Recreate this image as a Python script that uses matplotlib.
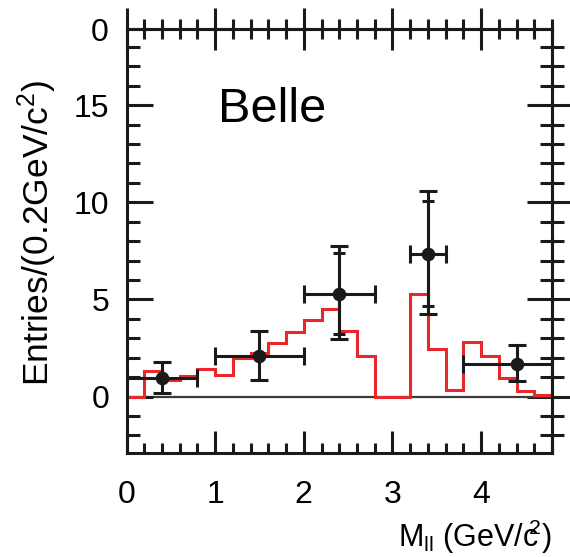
import numpy as np
import matplotlib.pyplot as plt
from matplotlib.ticker import MultipleLocator

plt.rcParams['font.family'] = ['Liberation Sans', 'DejaVu Sans']
plt.rcParams['mathtext.fontset'] = 'custom'
plt.rcParams['mathtext.rm'] = 'Liberation Sans'
plt.rcParams['mathtext.it'] = 'Liberation Sans:italic'

# histogram (MC expectation), 0.2 GeV bins
edges = [0.0, 0.2, 0.4, 0.6, 0.8, 1.0, 1.2, 1.4, 1.6, 1.8, 2.0, 2.2, 2.4,
         2.6, 2.8, 3.0, 3.2, 3.4, 3.6, 3.8, 4.0, 4.2, 4.4, 4.6, 4.8]
mc = [0.0, 1.33, 0.86, 1.08, 1.41, 1.11, 1.97, 2.24, 2.74, 3.34, 3.94, 4.49,
      3.38, 2.09, 0.0, 0.0, 5.27, 2.43, 0.33, 2.82, 2.10, 0.97, 0.30, 0.09]

# data points
x_pts = [0.4, 1.5, 2.4, 3.4, 4.4]
y_pts = [0.98, 2.08, 5.28, 7.33, 1.68]
x_lo = [0.4, 0.5, 0.4, 0.2, 0.6]
x_hi = [0.4, 0.5, 0.4, 0.2, 0.4]
y_lo = [0.79, 1.23, 2.32, 3.08, 0.89]
y_hi = [0.79, 1.29, 2.47, 3.26, 0.99]
# inner (stat) errors for the two central points
x_in = [2.4, 3.4]
y_in = [5.28, 7.33]
y_in_lo = [2.08, 2.67]
y_in_hi = [2.09, 2.73]

fig = plt.figure(figsize=(5.7, 5.57), dpi=100)
ax = fig.add_axes([126.5 / 570, 1 - 453.3 / 557, (552 - 126.5) / 570, (453.3 - 29.3) / 557])

ax.axhline(0, color='#3a3a3a', lw=1.6, zorder=1)
ax.stairs(mc, edges, baseline=None, color='#e8282c', lw=2.2, zorder=2)

ax.errorbar(x_pts, y_pts, xerr=[x_lo, x_hi], yerr=[y_lo, y_hi], fmt='o',
            color='#1a1a1a', ms=8.8, elinewidth=2.2, capsize=6.5, capthick=2.2, zorder=3)
ax.errorbar(x_in, y_in, yerr=[y_in_lo, y_in_hi], fmt='none',
            ecolor='#1a1a1a', elinewidth=2.2, capsize=4.5, capthick=2.2, zorder=3)

ax.set_xlim(0, 4.8)
ax.set_ylim(-2.92, 18.9)

for s in ax.spines.values():
    s.set_linewidth(2.2)
    s.set_color('#1a1a1a')

ax.xaxis.set_major_locator(MultipleLocator(1))
ax.xaxis.set_minor_locator(MultipleLocator(0.2))
ax.yaxis.set_major_locator(MultipleLocator(5))
ax.yaxis.set_minor_locator(MultipleLocator(1))
ax.set_yticks([0, 5, 10, 15])

ax.tick_params(axis='x', which='major', direction='in', length=15.5, width=2.2,
               labelsize=23, pad=19, color='#1a1a1a')
ax.tick_params(axis='x', which='minor', direction='in', length=7.2, width=2.2, color='#1a1a1a')
ax.tick_params(axis='y', which='major', direction='in', length=18.7, width=2.2,
               labelsize=23, pad=12.5, color='#1a1a1a')
ax.tick_params(axis='y', which='minor', direction='in', length=9.7, width=2.2, color='#1a1a1a')

top = ax.secondary_xaxis('top')
top.xaxis.set_major_locator(MultipleLocator(1))
top.xaxis.set_minor_locator(MultipleLocator(0.2))
top.tick_params(which='major', direction='inout', length=30, width=2.2, labeltop=False, color='#1a1a1a')
top.tick_params(which='minor', direction='inout', length=13.7, width=2.2, color='#1a1a1a')
top.spines['top'].set_linewidth(2.2)

right = ax.secondary_yaxis('right')
right.yaxis.set_major_locator(MultipleLocator(5))
right.yaxis.set_minor_locator(MultipleLocator(1))
right.tick_params(which='major', direction='inout', length=36, width=2.2, labelright=False, color='#1a1a1a')
right.tick_params(which='minor', direction='inout', length=17.7, width=2.2, color='#1a1a1a')
right.spines['right'].set_linewidth(2.2)

ax.set_ylabel(r'Entries/(0.2GeV/c$^{2}$)', fontsize=25.5)
ax.yaxis.set_label_coords(-0.159, 0.52)
ax.set_xlabel(r'M$_{\mathrm{ll}}$ (GeV/c$^{\!\!\!2}$)', fontsize=22, loc='right')
ax.xaxis.set_label_coords(1.0, -0.152)

ax.text(0.215, 0.781, 'Belle', transform=ax.transAxes, fontsize=35, va='baseline')
fig.text(109 / 570, 1 - 33 / 557, '0', fontsize=23, ha='right', va='center')

fig.savefig('out.png', dpi=100)
